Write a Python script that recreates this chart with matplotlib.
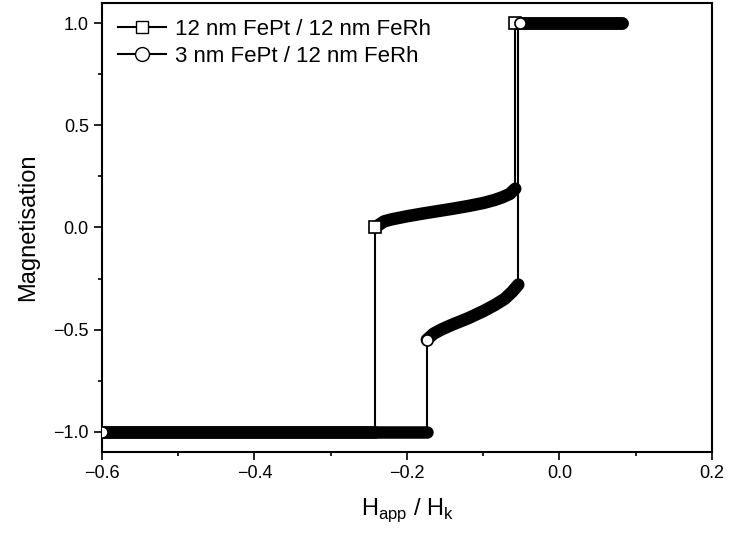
import matplotlib
matplotlib.use("Agg")
import matplotlib.pyplot as plt

plt.rcParams['font.family'] = ['Liberation Sans', 'DejaVu Sans']

# Series 1: 12 nm FePt / 12 nm FeRh
s1_low_x = [-0.6, -0.242]
s1_low_y = [-1.0, -1.0]
s1_mid_x = [-0.242, -0.23, -0.22, -0.20, -0.18, -0.16, -0.14, -0.12, -0.10, -0.085, -0.075, -0.065, -0.058]
s1_mid_y = [0.0, 0.03, 0.04, 0.055, 0.068, 0.08, 0.092, 0.105, 0.12, 0.135, 0.148, 0.165, 0.19]
s1_top_x = [-0.058, 0.082]
s1_top_y = [1.0, 1.0]
# Series 2: 3 nm FePt / 12 nm FeRh
s2_low_x = [-0.6, -0.174]
s2_low_y = [-1.0, -1.0]
s2_mid_x = [-0.174, -0.165, -0.155, -0.14, -0.12, -0.10, -0.085, -0.072, -0.062, -0.054]
s2_mid_y = [-0.55, -0.52, -0.50, -0.475, -0.445, -0.41, -0.38, -0.35, -0.315, -0.28]
s2_top_x = [-0.052, 0.082]
s2_top_y = [1.0, 1.0]

fig = plt.figure(figsize=(7.31, 5.47), dpi=100)
ax = fig.add_axes([0.1395, 0.1737, 0.8345, 0.8208])

lw = 9
for xs, ys in [(s1_low_x, s1_low_y), (s1_mid_x, s1_mid_y), (s1_top_x, s1_top_y),
               (s2_low_x, s2_low_y), (s2_mid_x, s2_mid_y), (s2_top_x, s2_top_y)]:
    ax.plot(xs, ys, color='black', lw=lw, solid_capstyle='round', zorder=2)
# vertical jumps
ax.plot([s1_low_x[-1]] * 2, [s1_low_y[-1], s1_mid_y[0]], color='black', lw=1.5)
ax.plot([s1_mid_x[-1]] * 2, [s1_mid_y[-1], s1_top_y[0]], color='black', lw=1.5)
ax.plot([s2_low_x[-1]] * 2, [s2_low_y[-1], s2_mid_y[0]], color='black', lw=1.5)
ax.plot([s2_mid_x[-1]] * 2, [s2_mid_y[-1], s2_top_y[0]], color='black', lw=1.5)

# open markers at branch starts
ax.plot([s1_mid_x[0], s1_top_x[0]], [s1_mid_y[0], s1_top_y[0]], 's', ms=8, mfc='white', mec='black', mew=1.2, zorder=3)
ax.plot([s2_low_x[0], s2_mid_x[0], s2_top_x[0]], [s2_low_y[0], s2_mid_y[0], s2_top_y[0]], 'o', ms=8, mfc='white', mec='black', mew=1.2, zorder=4)

# legend handles
ax.plot([], [], '-s', color='black', lw=1.5, ms=9, mfc='white', mec='black', label='12 nm FePt / 12 nm FeRh')
ax.plot([], [], '-o', color='black', lw=1.5, ms=10, mfc='white', mec='black', label='3 nm FePt / 12 nm FeRh')
ax.legend(loc='upper left', frameon=False, fontsize=16, handlelength=2.2, borderaxespad=0.3,
          labelspacing=0.3, handletextpad=0.4)

ax.set_xlim(-0.6, 0.2)
ax.set_ylim(-1.1, 1.1)
ax.set_xticks([-0.6, -0.4, -0.2, 0.0, 0.2])
ax.set_xticklabels(['\u22120.6', '\u22120.4', '\u22120.2', '0.0', '0.2'])
ax.set_xticks([-0.5, -0.3, -0.1, 0.1], minor=True)
ax.set_yticks([-1.0, -0.5, 0.0, 0.5, 1.0])
ax.set_yticklabels(['\u22121.0', '\u22120.5', '0.0', '0.5', '1.0'])
ax.set_yticks([-0.75, -0.25, 0.25, 0.75], minor=True)
ax.tick_params(which='both', direction='out', labelsize=13, width=1.2)
ax.tick_params(which='major', length=6)
ax.tick_params(which='minor', length=3)
for s in ax.spines.values():
    s.set_linewidth(1.5)
ax.set_xlabel(r'H$_\mathregular{app}$ / H$_\mathregular{k}$', fontsize=17, labelpad=10)
ax.set_ylabel('Magnetisation', fontsize=17, labelpad=10)

fig.savefig('out.png', dpi=100)
